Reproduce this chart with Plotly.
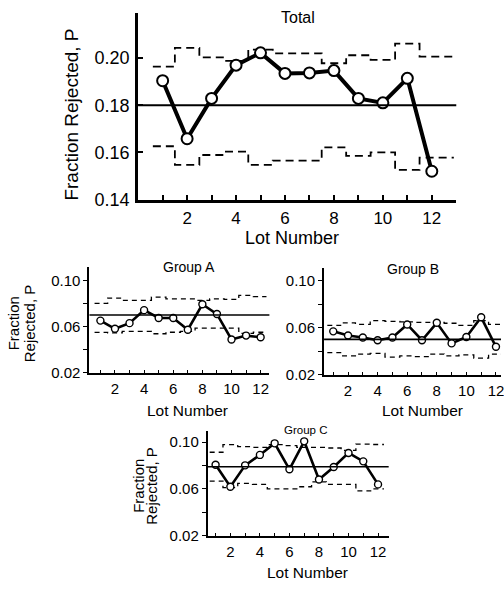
import plotly.graph_objects as go

W, H = 504, 590
FONT = "Arial, Liberation Sans, Helvetica, sans-serif"

lots = list(range(1, 13))

total_p = [0.1904, 0.1658, 0.1829, 0.1970, 0.2022, 0.1935, 0.1937, 0.1947, 0.1829, 0.1810, 0.1914, 0.1520]
total_ucl = [0.1964, 0.2043, 0.2003, 0.1988, 0.2036, 0.2020, 0.2020, 0.1978, 0.2012, 0.1992, 0.2061, 0.2006]
total_lcl = [0.1626, 0.1547, 0.1589, 0.1603, 0.1547, 0.1565, 0.1565, 0.1621, 0.1585, 0.1600, 0.1526, 0.1578]
total_center = 0.18

a_p = [0.0651, 0.0580, 0.0629, 0.0742, 0.0674, 0.0674, 0.0572, 0.0793, 0.0708, 0.0487, 0.0521, 0.0506]
a_ucl = [0.0800, 0.0847, 0.0827, 0.0827, 0.0855, 0.0840, 0.0840, 0.0827, 0.0840, 0.0835, 0.0870, 0.0860]
a_lcl = [0.0549, 0.0545, 0.0557, 0.0557, 0.0537, 0.0550, 0.0557, 0.0586, 0.0586, 0.0586, 0.0540, 0.0550]
a_center = 0.070

b_p = [0.0569, 0.0533, 0.0516, 0.0493, 0.0516, 0.0628, 0.0493, 0.0642, 0.0466, 0.0521, 0.0689, 0.0437]
b_ucl = [0.0620, 0.0642, 0.0628, 0.0661, 0.0655, 0.0650, 0.0645, 0.0645, 0.0638, 0.0620, 0.0660, 0.0628]
b_lcl = [0.0387, 0.0359, 0.0375, 0.0380, 0.0348, 0.0359, 0.0353, 0.0375, 0.0359, 0.0368, 0.0340, 0.0375]
b_center = 0.050

c_p = [0.0807, 0.0619, 0.0802, 0.0891, 0.0990, 0.0768, 0.1007, 0.0681, 0.0788, 0.0908, 0.0836, 0.0639]
c_ucl = [0.0914, 0.0979, 0.0962, 0.0956, 0.0979, 0.0970, 0.0956, 0.0956, 0.0950, 0.0930, 0.0984, 0.0980]
c_lcl = [0.0667, 0.0611, 0.0647, 0.0640, 0.0600, 0.0600, 0.0619, 0.0660, 0.0639, 0.0639, 0.0583, 0.0600]
c_center = 0.079


def px(x):
    return x / W


def py(y):
    return 1 - y / H


fig = go.Figure()


def steps(vals, end):
    xs = [l - 0.5 for l in lots]
    xs[0] = lots[0] - 0.4
    xs.append(lots[-1] + end)
    return xs, vals + [vals[-1]]


def panel(n, p, ucl, lcl, center, big):
    sfx = "" if n == 1 else str(n)
    xa, ya = "x" + sfx, "y" + sfx
    lw = 4 if big else 2.6
    dash = "8px,5px" if big else "5px,4px"
    dw = 1.8 if big else 1.3
    for lim in (ucl, lcl):
        sx, sy = steps(lim, 0.9 if big else 0.4)
        fig.add_trace(go.Scatter(x=sx, y=sy, mode="lines", line_shape="hv",
                                 line=dict(color="black", width=dw, dash=dash),
                                 xaxis=xa, yaxis=ya, showlegend=False, hoverinfo="skip"))
    fig.add_shape(type="line", xref=xa + " domain", yref=ya, x0=0, x1=1, y0=center, y1=center,
                  line=dict(color="black", width=2 if big else 1.6))
    fig.add_trace(go.Scatter(x=lots, y=p, mode="lines+markers",
                             line=dict(color="black", width=lw),
                             marker=dict(symbol="circle", size=11 if big else 7, color="white",
                                         line=dict(color="black", width=2 if big else 1.4)),
                             xaxis=xa, yaxis=ya, showlegend=False, cliponaxis=False))


panel(1, total_p, total_ucl, total_lcl, total_center, True)
panel(2, a_p, a_ucl, a_lcl, a_center, False)
panel(3, b_p, b_ucl, b_lcl, b_center, False)
panel(4, c_p, c_ucl, c_lcl, c_center, False)


def xax(dom, rng, big):
    return dict(domain=dom, range=rng, showgrid=False, zeroline=False, showline=True,
                linecolor="black", linewidth=3 if big else 2,
                tickmode="array", tickvals=[2, 4, 6, 8, 10, 12],
                ticks="inside", ticklen=5 if big else 3, tickwidth=2 if big else 1.3,
                tickcolor="black", ticklabelstandoff=1, ticklabeloverflow="allow",
                minor=dict(dtick=1, tick0=0, ticks="inside", ticklen=5 if big else 3,
                           tickwidth=2 if big else 1.3, tickcolor="black"),
                tickfont=dict(family=FONT, size=17 if big else 15, color="black"))


def yax(dom, rng, big, anchor):
    d = dict(domain=dom, range=rng, anchor=anchor, showgrid=False, zeroline=False, showline=True,
             linecolor="black", linewidth=3 if big else 2, tickcolor="black",
             tickfont=dict(family=FONT, size=18 if big else 15, color="black"))
    if big:
        d.update(tickmode="array", tickvals=[0.14, 0.16, 0.18, 0.20], tickformat=".2f",
                 ticks="inside", ticklen=5, tickwidth=2, ticklabelstandoff=2)
    else:
        d.update(tickmode="array", tickvals=[0.02, 0.06, 0.10], tickformat=".2f",
                 ticks="outside", ticklen=4, tickwidth=1.3,
                 minor=dict(tickmode="array", tickvals=[0.04, 0.08], ticks="outside", ticklen=4,
                            tickwidth=1.3, tickcolor="black"))
    return d


fig.update_layout(
    width=W, height=H, margin=dict(l=0, r=0, t=0, b=0),
    paper_bgcolor="white", plot_bgcolor="white",
    xaxis=dict(xax([px(139), px(459)], [0, 13], True), anchor="y"),
    yaxis=yax([py(203), py(13)], [0.14, 0.2192], True, "x"),
    xaxis2=dict(xax([px(90), px(271)], [0.25, 12.6], False), anchor="y2"),
    yaxis2=yax([py(379), py(272)], [0.02, 0.1113], False, "x2"),
    xaxis3=dict(xax([px(326), px(504)], [0.38, 12.34], False), anchor="y3"),
    yaxis3=yax([py(381), py(273)], [0.02, 0.1107], False, "x3"),
    xaxis4=dict(xax([px(209), px(391)], [0.47, 12.72], False), anchor="y4"),
    yaxis4=yax([py(545), py(438)], [0.02, 0.1099], False, "x4"),
)

annots = [
    ("Total", 300, 18, 16, 0),
    ("Lot Number", 294, 242, 18, 0),
    ("Fraction Rejected, P", 71, 117, 19, -90),
    ("Group A", 190, 272, 14, 0),
    ("Lot Number", 189, 418, 15.5, 0),
    ("Fraction", 14, 329, 15, -90),
    ("Rejected, P", 30, 329, 15, -90),
    ("Group B", 415, 274, 14, 0),
    ("Lot Number", 425, 418, 15.5, 0),
    ("Group C", 307, 437, 11.5, 0),
    ("Lot Number", 309, 582, 15.5, 0),
    ("Fraction", 139, 494, 15, -90),
    ("Rejected, P", 153, 494, 15, -90),
]
for text, x, y, size, ang in annots:
    fig.add_annotation(text=text, x=px(x), y=py(y), xref="paper", yref="paper",
                       showarrow=False, textangle=ang, xanchor="center", yanchor="middle",
                       font=dict(family=FONT, size=size, color="black"))

# drop the page's default body margin so the figure sits at the window's corner
fig.write_html("out.html", config={"displayModeBar": False},
               post_script="document.body.style.margin='0';")
